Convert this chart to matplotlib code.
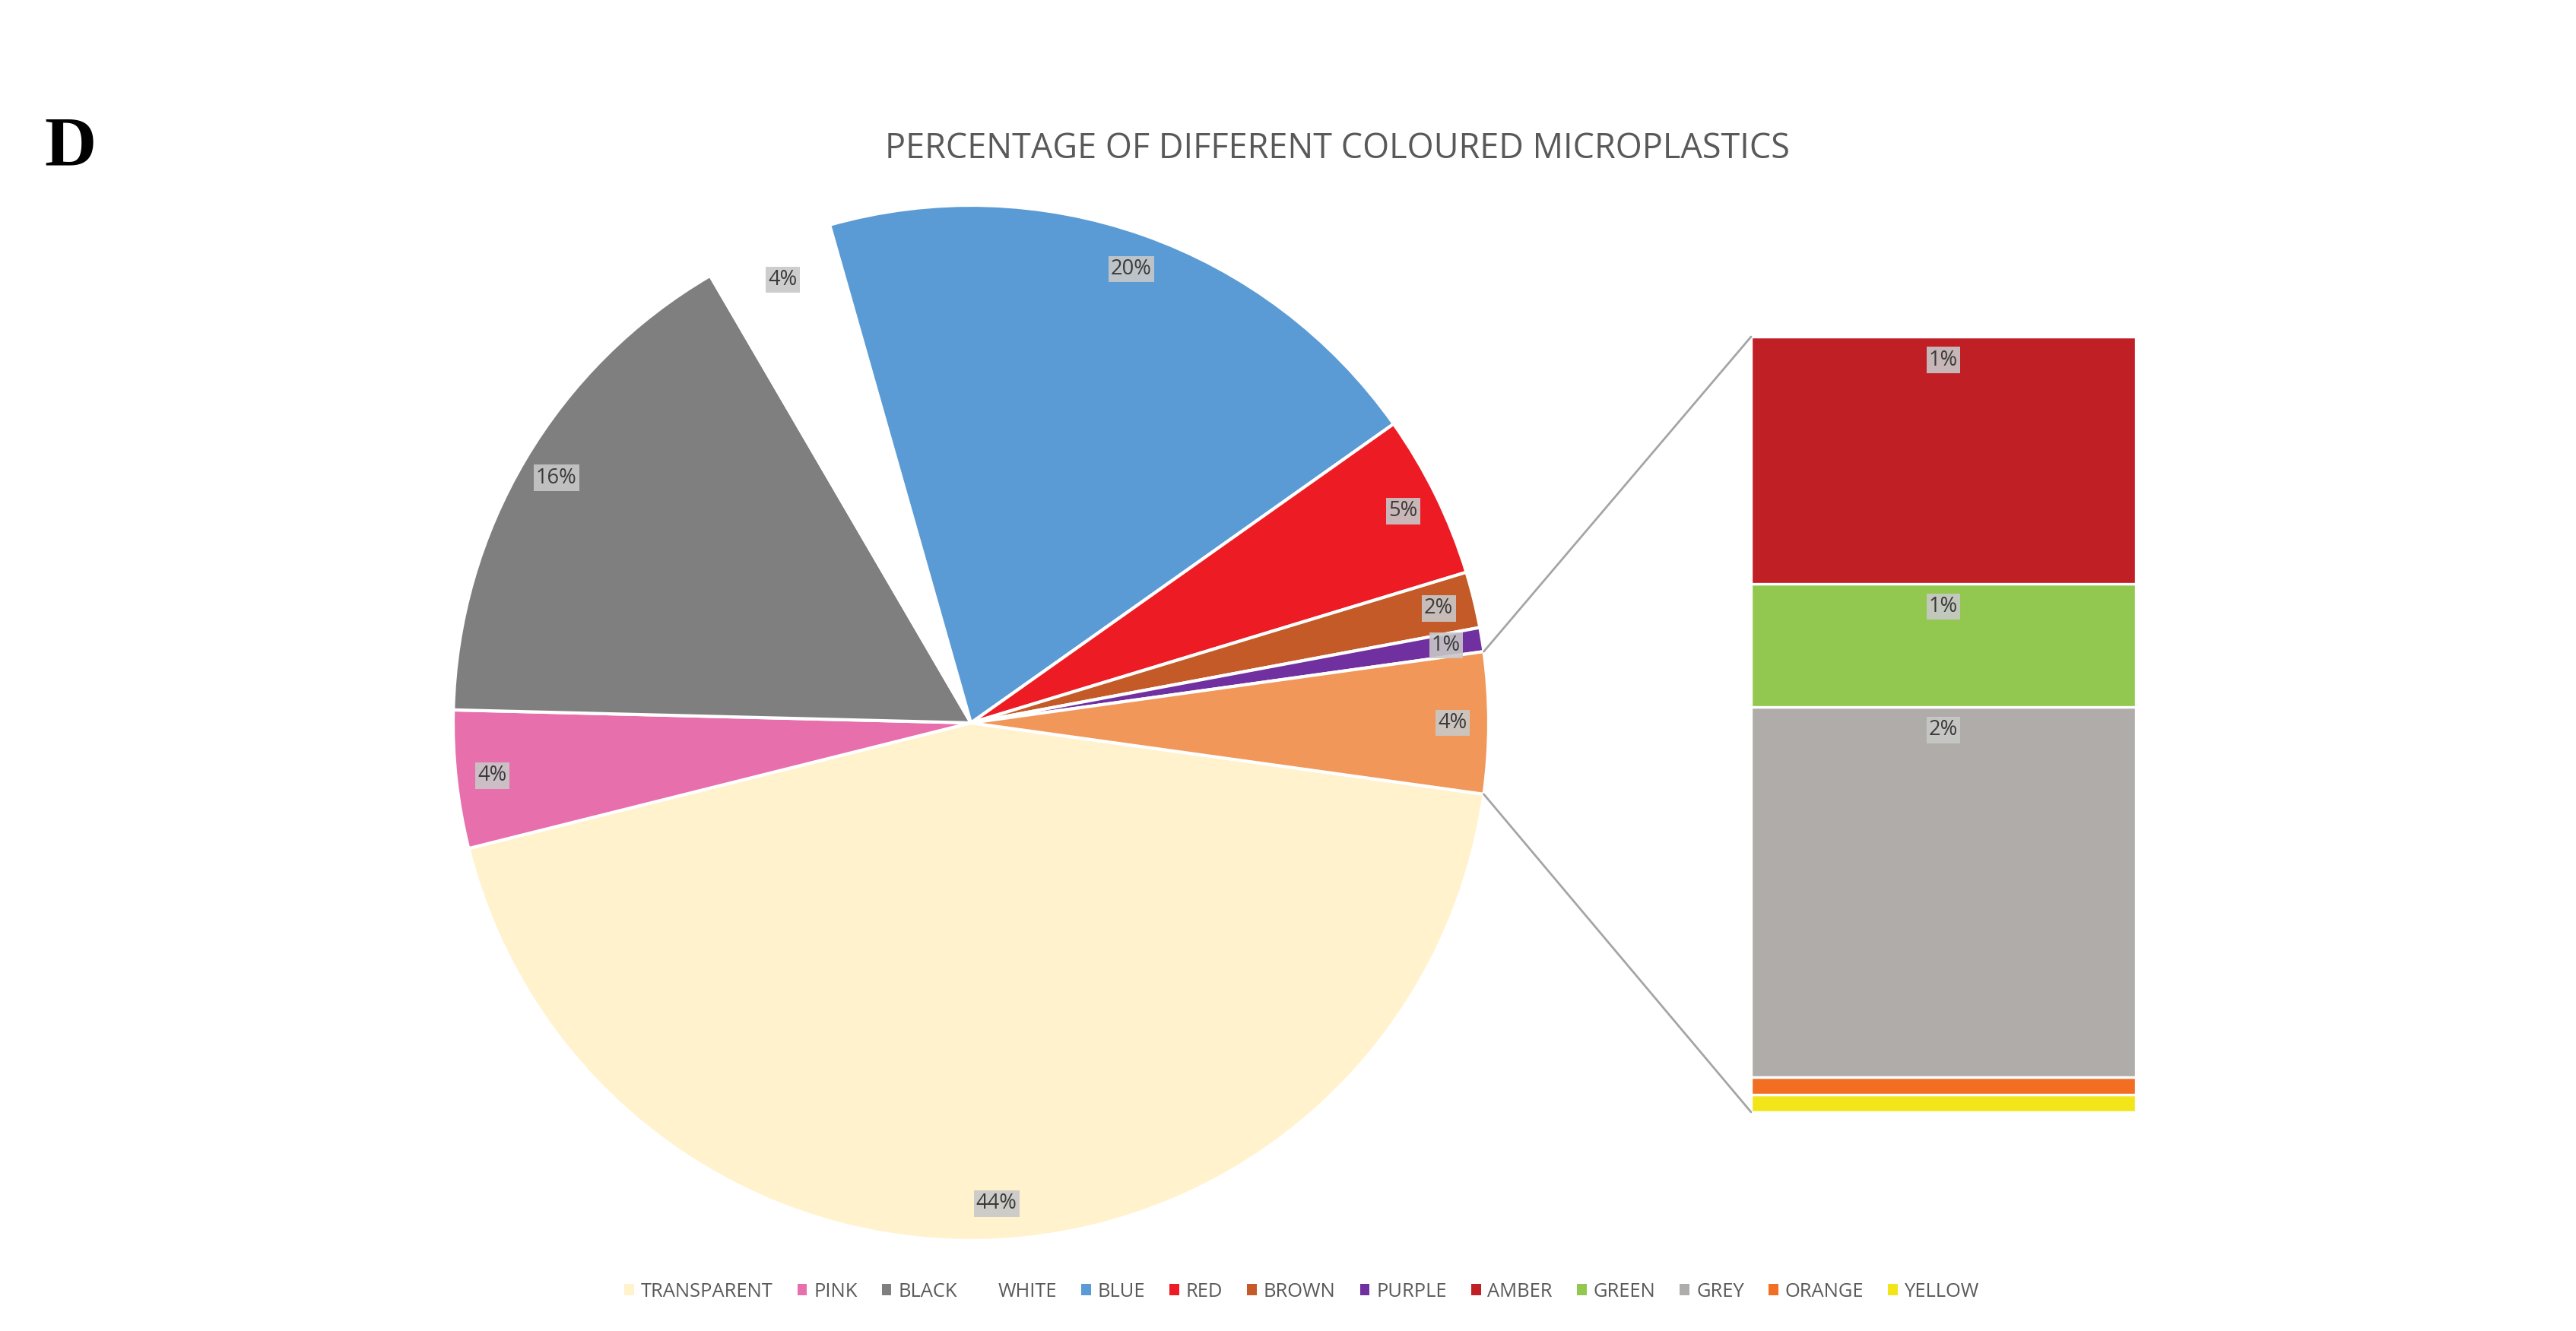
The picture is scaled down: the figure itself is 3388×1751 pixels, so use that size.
import matplotlib
matplotlib.use("Agg")
import matplotlib.pyplot as plt
from matplotlib.patches import Patch, ConnectionPatch
from matplotlib import font_manager
import numpy as np

# ---- data ----
pie_labels = ["TRANSPARENT", "PINK", "BLACK", "WHITE", "BLUE", "RED", "BROWN", "PURPLE"]
pie_values = [43.9, 4.3, 16.2, 4.0, 19.6, 5.1, 1.75, 0.75]
pie_colors = ["#FFF2CC", "#E66FAC", "#7F7F7F", "#FFFFFF", "#5B9BD5", "#ED1C24", "#C35A27", "#7030A0"]

bar_labels = ["AMBER", "GREEN", "GREY", "ORANGE", "YELLOW"]
bar_values = [1.4, 0.7, 2.1, 0.1, 0.1]
bar_colors = ["#C01F25", "#92C850", "#B0ACA9", "#F26E22", "#F2E61A"]
other_color = "#F1975A"

title = "PERCENTAGE OF DIFFERENT COLOURED MICROPLASTICS"

avail = {f.name for f in font_manager.fontManager.ttflist}
sans = "Open Sans" if "Open Sans" in avail else "DejaVu Sans"

W, H = 3388, 1751
dpi = 200
fig = plt.figure(figsize=(W / dpi, H / dpi), dpi=dpi)
fig.patch.set_facecolor("white")

# ---- pie ----
cx, cy, R = 1277, 1751 - 951, 681
ax = fig.add_axes([(cx - R) / W, (cy - R) / H, 2 * R / W, 2 * R / H])

other_total = sum(bar_values)
values = pie_values + [other_total]
colors = pie_colors + [other_color]
total = sum(values)
frac_other = other_total / total
start = -180.0 * frac_other

wedges, texts, autotexts = ax.pie(
    values, colors=colors, startangle=start, counterclock=False, radius=1,
    autopct="%.0f%%", pctdistance=0.93,
    wedgeprops=dict(edgecolor="white", linewidth=1.5),
    textprops=dict(fontsize=9.8, color="#3A3A3A", family=sans),
)
ax.set_xlim(-1, 1)
ax.set_ylim(-1, 1)
ax.set_aspect("equal")
ax.axis("off")
for w in wedges:
    w.set_clip_on(False)
for t in autotexts:
    t.set_bbox(dict(boxstyle="square,pad=0.12", facecolor="#C8C8C8", edgecolor="none", alpha=0.9))

# ---- bar ----
bx0, bx1 = 2303, 2809
by0, by1 = 1751 - 1463, 1751 - 443
bax = fig.add_axes([bx0 / W, by0 / H, (bx1 - bx0) / W, (by1 - by0) / H])
bax.set_xlim(-0.5, 0.5)
bax.set_ylim(0, other_total)
bax.axis("off")
bottom = 0.0
segs = []
for lab, val, col in zip(bar_labels[::-1], bar_values[::-1], bar_colors[::-1]):
    bax.bar(0, val, width=1.0, bottom=bottom, color=col, edgecolor="white", linewidth=1.2, clip_on=False)
    segs.append((lab, val, bottom + val))
    bottom += val
for lab, val, top in segs:
    if val >= 0.5:
        bax.annotate(f"{val:.0f}%", xy=(0, top), xytext=(0, -11), textcoords="offset points",
                     ha="center", va="center", fontsize=9.8, color="#3A3A3A", family=sans,
                     bbox=dict(boxstyle="square,pad=0.12", facecolor="#C8C8C8", edgecolor="none", alpha=0.9))

# ---- connector lines ----
th = np.deg2rad(180.0 * frac_other)
for sgn, yb in ((1, other_total), (-1, 0)):
    con = ConnectionPatch(xyA=(np.cos(th), sgn * np.sin(th)), coordsA=ax.transData,
                          xyB=(-0.5, yb), coordsB=bax.transData,
                          color="#A5A5A5", linewidth=1.0)
    fig.add_artist(con)

# ---- title & panel letter ----
fig.text(1759 / W, 1 - 196 / H, title, ha="center", va="center", fontsize=16.2,
         color="#595959", family=sans)
fig.text(58 / W, 1 - 195 / H, "D", ha="left", va="center", fontsize=34,
         weight="bold", family="Liberation Serif", color="black")

# ---- legend ----
all_labels = pie_labels + bar_labels
all_colors = pie_colors + bar_colors
handles = [Patch(facecolor=c, edgecolor="none") for c in all_colors]
fig.legend(handles, all_labels, loc="center", bbox_to_anchor=(1712 / W, 52 / H), ncol=13,
           frameon=False, handlelength=0.5, handleheight=0.5, handletextpad=0.35,
           columnspacing=1.25, prop=dict(family=sans, size=9.2), labelcolor="#595959")

fig.savefig("out.png", dpi=dpi, facecolor="white")
